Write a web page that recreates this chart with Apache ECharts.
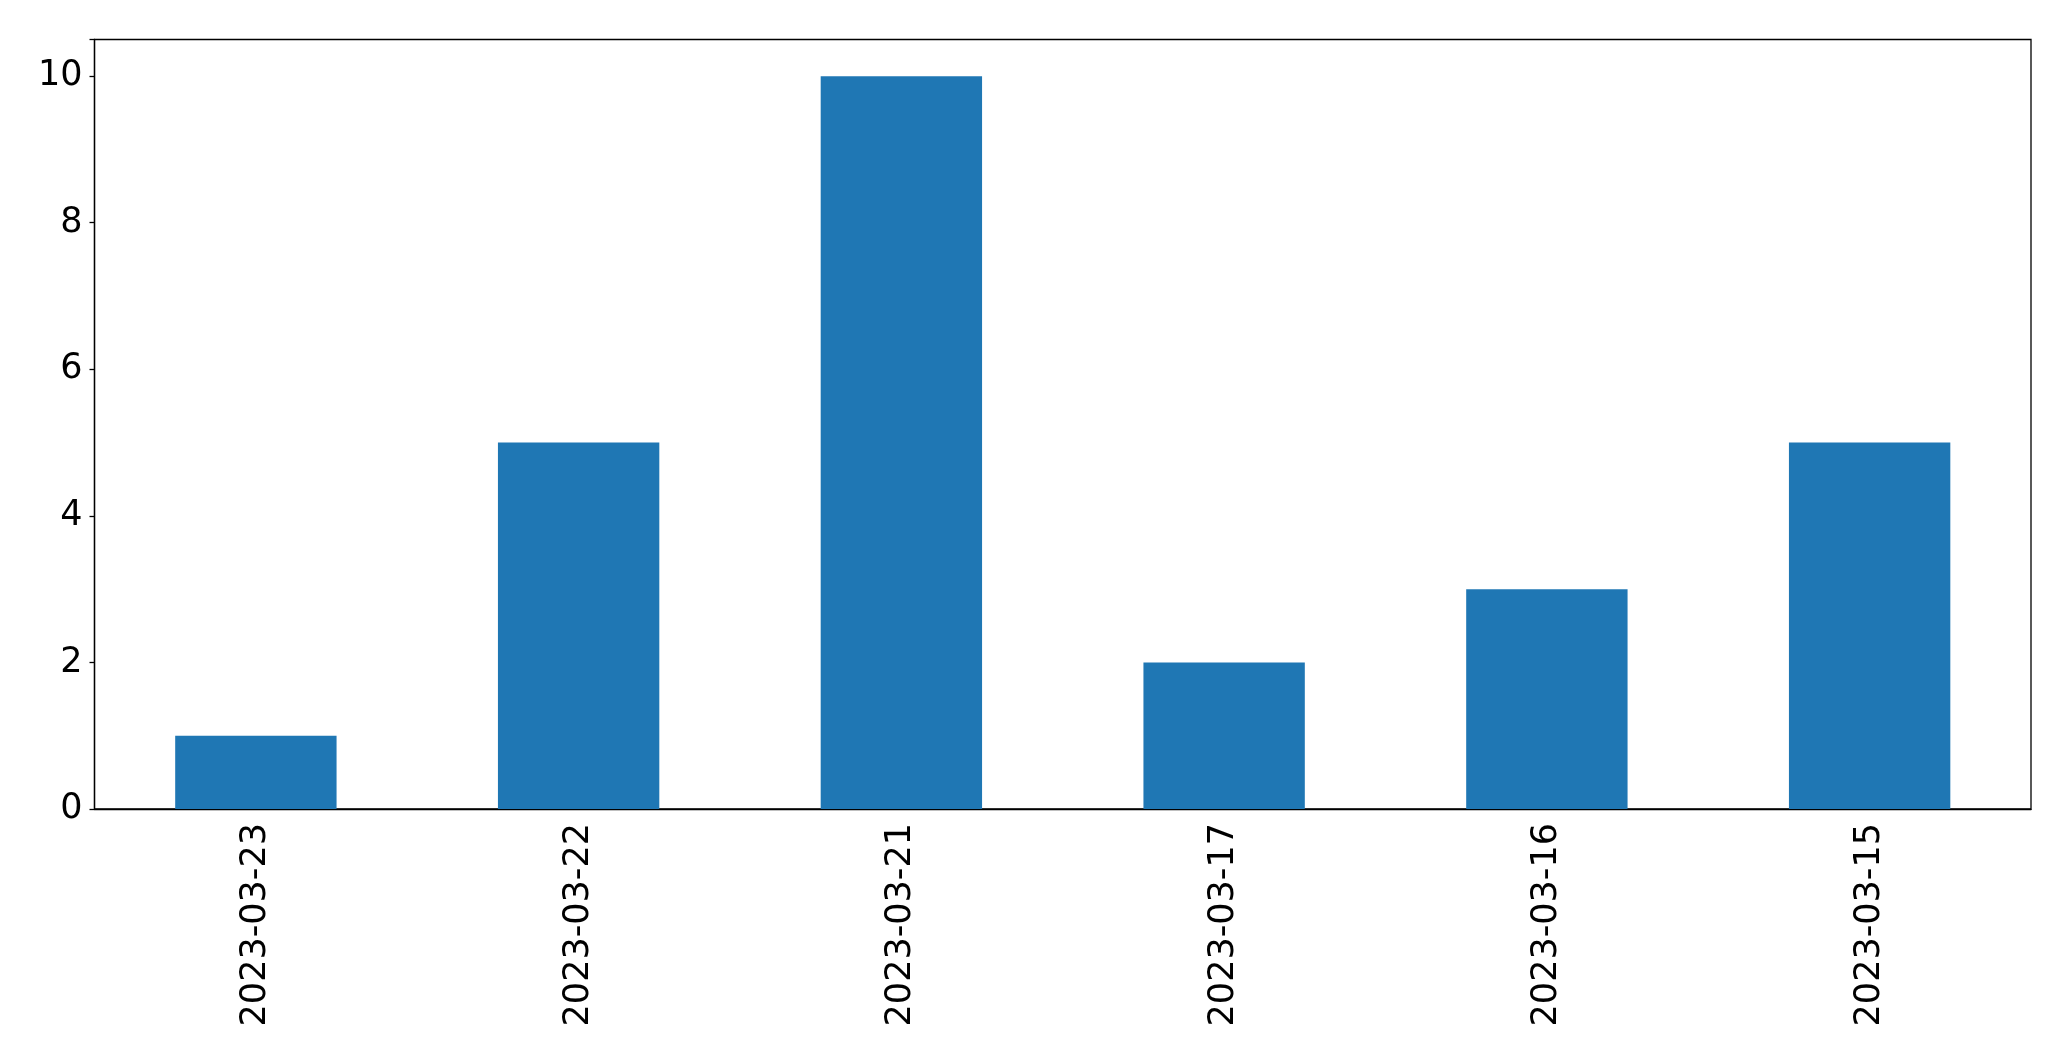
<!DOCTYPE html>
<html><head><meta charset="utf-8">
<script src="https://cdn.jsdelivr.net/npm/echarts@6/dist/echarts.min.js"></script>
<style>html,body{margin:0;padding:0;background:#fff}#c{width:2071px;height:1061px}</style>
</head><body><div id="c"></div>
<script>
const categories = ['2023-03-23','2023-03-22','2023-03-21','2023-03-17','2023-03-16','2023-03-15'];
const values = [1, 5, 10, 2, 3, 5];
const yTicks = [0, 2, 4, 6, 8, 10];

const chart = echarts.init(document.getElementById('c'));
chart.setOption({
  animation: false,
  grid: { left: 94.5, right: 40, top: 39.5, bottom: 252, show: true, borderColor: '#000', borderWidth: 1.3, backgroundColor: 'transparent' },
  xAxis: {
    type: 'category', data: categories,
    axisLine: { lineStyle: { color: '#000', width: 1.3 } },
    axisTick: { alignWithLabel: true, length: 5, lineStyle: { color: '#000', width: 1.3 } },
    axisLabel: { rotate: 90, margin: 14, color: '#000', fontSize: 35, fontFamily: 'DejaVu Sans' }
  },
  yAxis: {
    type: 'value', min: 0, max: 10.5, interval: 2,
    splitLine: { show: false },
    axisLine: { show: true, lineStyle: { color: '#000', width: 1.3 } },
    axisTick: { show: true, length: 5, lineStyle: { color: '#000', width: 1.3 } },
    axisLabel: { color: '#000', fontSize: 35, fontFamily: 'DejaVu Sans', margin: 12,
      formatter: v => yTicks.includes(v) ? String(v) : '' }
  },
  series: [{ type: 'bar', data: values, barWidth: '50%', itemStyle: { color: '#1f77b4' } }]
});
</script></body></html>
